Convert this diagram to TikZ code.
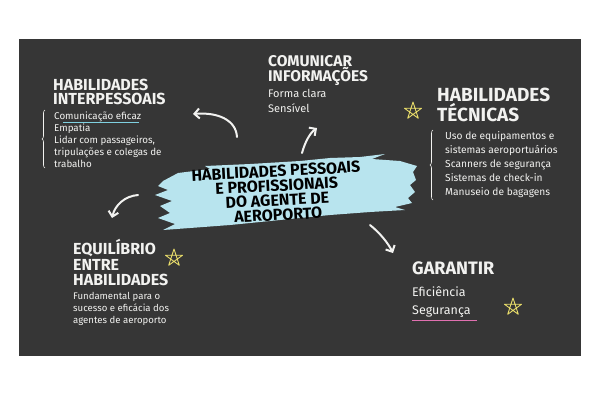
\documentclass[tikz,border=0pt]{standalone}
\usepackage{fontspec}
\setmainfont{Fira Sans}
\usetikzlibrary{arrows.meta,decorations.pathreplacing}
\definecolor{BoardGrey}{HTML}{363636}
\definecolor{ChalkWhite}{HTML}{F2F2F0}
\definecolor{BrushBlue}{HTML}{B8E4EE}
\definecolor{StarYellow}{HTML}{E8DC6A}
\definecolor{LineBlue}{HTML}{7FD0E0}
\definecolor{LinePink}{HTML}{E070B0}
\tikzset{
  heading/.style={anchor=north west,inner sep=0pt,align=left,text=ChalkWhite,font=\fontsize{16}{13.5}\selectfont\bfseries},
  bodytext/.style={anchor=north west,inner sep=0pt,align=left,text=ChalkWhite,font=\fontsize{9.8}{11.8}\selectfont},
  chalkarrow/.style={-{Straight Barb[length=5pt,width=10pt,line width=2pt]},line width=2pt,draw=ChalkWhite,line cap=round},
  chalkbrace/.style={decorate,decoration={brace,amplitude=3pt},draw=ChalkWhite,line width=0.6pt},
  starline/.style={draw=StarYellow,line width=0.9pt,line join=round},
  title/.style={align=center,inner sep=0pt,text=black,rotate=3,font=\fontsize{16}{14.6}\selectfont\bfseries}
}
\newcommand{\chalkstar}[1]{\draw[starline] (#1) +(90:9) -- +(234:9) -- +(18:9) -- +(162:9) -- +(306:9) -- cycle;}

\begin{document}
\begin{tikzpicture}[x=1pt,y=1pt]
  \useasboundingbox (0,0) rectangle (600,-400);
  \fill[BoardGrey] (19,-39) rectangle (581,-356);

  % brush stroke behind the title
  \fill[BrushBlue] (163,-181) -- (178,-173) -- (210,-169) -- (205,-166) -- (250,-164) -- (300,-161)
    -- (330,-158) -- (360,-157) -- (385,-154) -- (372,-159) -- (400,-161) -- (417,-166) -- (413,-172)
    -- (416,-180) -- (410,-185) -- (415,-192) -- (408,-198) -- (412,-203) -- (395,-207) -- (405,-210)
    -- (370,-212) -- (330,-215) -- (300,-218) -- (260,-222) -- (230,-225) -- (190,-228) -- (163,-230)
    -- (175,-224) -- (158,-218) -- (170,-213) -- (160,-206) -- (172,-201) -- (155,-195) -- (168,-190)
    -- (158,-186) -- cycle;
  \node[title] (core) at (277,-193) {HABILIDADES PESSOAIS\\E PROFISSIONAIS\\DO AGENTE DE\\AEROPORTO};

  % headings
  \node[heading] (inter) at (53,-79) {HABILIDADES\\INTERPESSOAIS};
  \node[heading,font=\fontsize{15.5}{13.5}\selectfont\bfseries] (comun) at (268,-55) {COMUNICAR\\INFORMAÇÕES};
  \node[heading,font=\fontsize{19}{15}\selectfont\bfseries] (tecn) at (437,-88) {HABILIDADES\\TÉCNICAS};
  \node[heading,font=\fontsize{16}{15.5}\selectfont\bfseries] (equil) at (73,-239) {EQUILÍBRIO\\ENTRE\\HABILIDADES};
  \node[heading,font=\fontsize{18}{15}\selectfont\bfseries] (garant) at (412,-262) {GARANTIR};

  % lists
  \node[bodytext] (interlist) at (54,-112) {Comunicação eficaz\\Empatia\\Lidar com passageiros,\\tripulações e colegas de\\trabalho};
  \node[bodytext,font=\fontsize{11}{15}\selectfont] (comunlist) at (268,-89) {Forma clara\\Sensível};
  \node[bodytext,font=\fontsize{10.2}{14.2}\selectfont] (tecnlist) at (445,-131) {Uso de equipamentos e\\sistemas aeroportuários\\Scanners de segurança\\Sistemas de check-in\\Manuseio de bagagens};
  \node[bodytext,font=\fontsize{9.6}{12}\selectfont] (equillist) at (73,-292) {Fundamental para o\\sucesso e eficácia dos\\agentes de aeroporto};
  \node[bodytext,font=\fontsize{12.5}{18}\selectfont] (garantlist) at (412,-286) {Eficiência\\Segurança};

  \draw[LineBlue,line width=0.9pt] (63,-122) -- (139,-122);
  \draw[LinePink,line width=0.9pt] (412,-320) -- (477,-320);

  % braces
  \coordinate (ib1) at (45,-168);
  \coordinate (ib2) at (45,-110);
  \coordinate (tb1) at (433,-200);
  \coordinate (tb2) at (433,-130);
  \draw[chalkbrace] (ib1) -- (ib2);
  \draw[chalkbrace] (tb1) -- (tb2);

  % stars
  \coordinate (tecstar) at (413,-111);
  \coordinate (eqstar) at (174,-258);
  \coordinate (gastar) at (513,-307);
  \chalkstar{tecstar}
  \chalkstar{eqstar}
  \chalkstar{gastar}

  % arrows
  \coordinate (t1) at (237,-137);
  \coordinate (h1) at (193,-114);
  \coordinate (t2) at (302,-153);
  \coordinate (h2) at (317,-128);
  \coordinate (t3) at (138,-195);
  \coordinate (h3) at (112,-218);
  \coordinate (t4) at (370,-225);
  \coordinate (h4) at (393,-253);
  \draw[chalkarrow] (t1) .. controls (236,-120) and (218,-112) .. (h1);
  \draw[chalkarrow] (t2) .. controls (305,-142) and (310,-133) .. (h2);
  \draw[chalkarrow] (t3) .. controls (125,-196) and (115,-205) .. (h3);
  \draw[chalkarrow] (t4) .. controls (380,-233) and (388,-243) .. (h4);
\end{tikzpicture}
\end{document}
